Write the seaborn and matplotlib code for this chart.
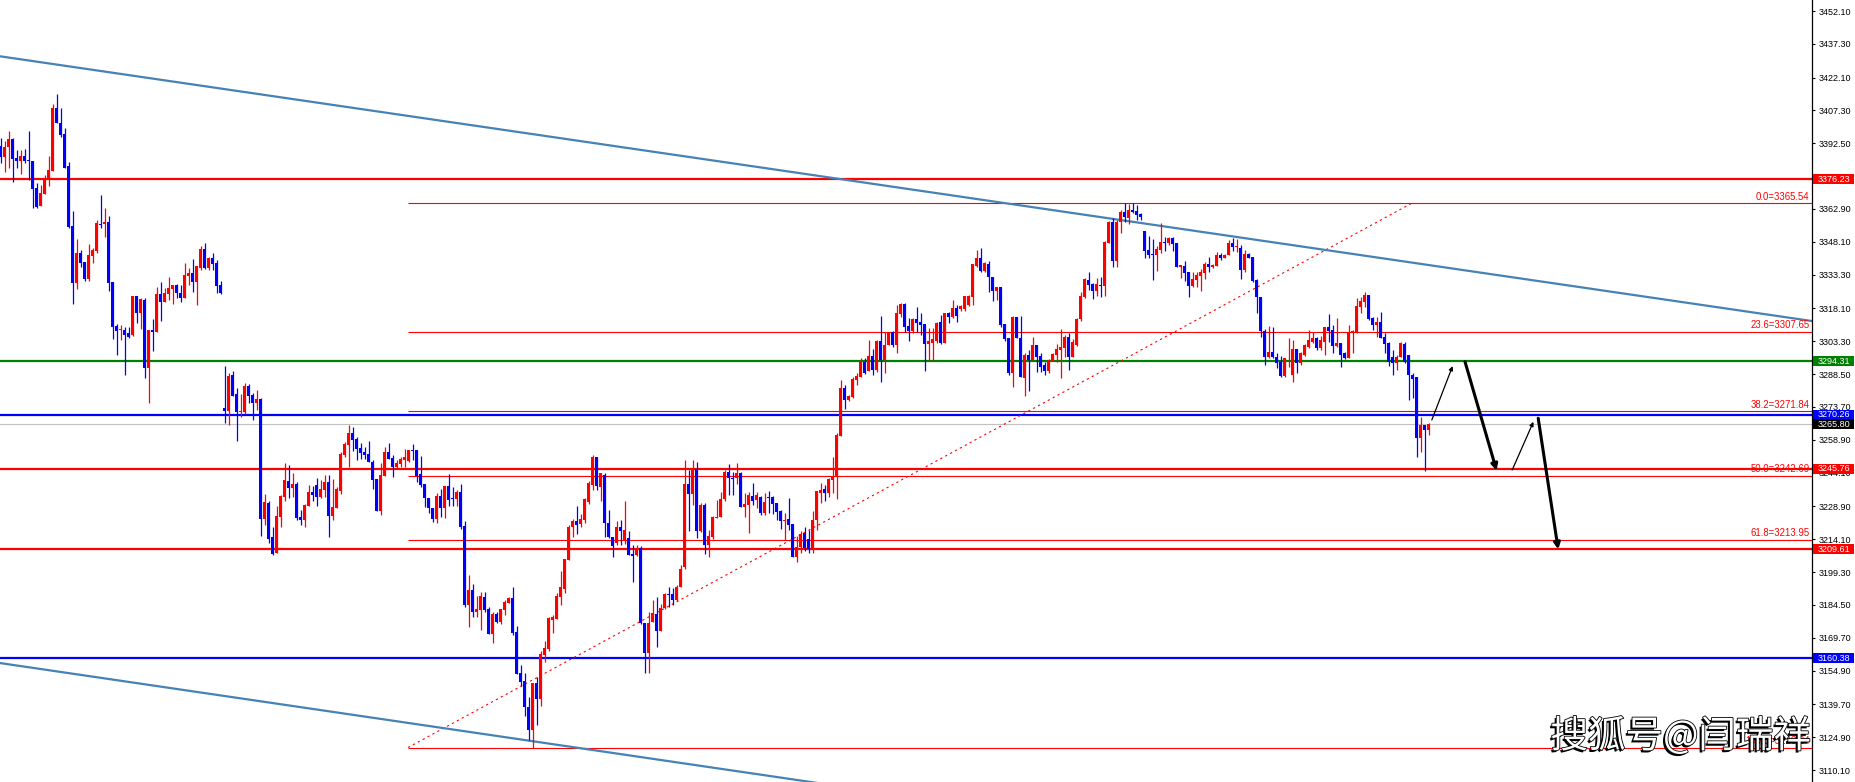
import numpy as np
import matplotlib
matplotlib.use("Agg")
import matplotlib.pyplot as plt
import matplotlib.patheffects as pe
from matplotlib.patches import Rectangle
import seaborn as sns

# candle data, one value per bar
opens = [3391.3, 3386.5, 3390.7, 3394.6, 3385.9, 3384.7, 3386.8, 3385.0, 3384.7, 3372.2,
         3364.2, 3369.6, 3376.2, 3380.1, 3408.5, 3401.8, 3396.7, 3382.2, 3355.2, 3329.4,
         3342.9, 3339.0, 3331.2, 3341.7, 3344.1, 3356.1, 3356.0, 3357.0, 3330.1, 3310.2,
         3308.5, 3308.4, 3307.2, 3306.1, 3323.7, 3315.9, 3321.9, 3291.1, 3308.4, 3307.6,
         3324.6, 3321.1, 3324.6, 3326.7, 3328.6, 3324.9, 3322.6, 3332.7, 3333.9, 3330.1,
         3336.1, 3344.8, 3336.1, 3340.9, 3338.7, 3328.6, 3273.2, 3272.0, 3288.2, 3279.5,
         3271.6, 3271.6, 3283.1, 3279.1, 3275.6, 3277.4, 3223.2, 3230.4, 3214.9, 3207.7,
         3224.2, 3233.3, 3240.5, 3237.3, 3239.0, 3223.9, 3222.7, 3229.0, 3235.2, 3238.5,
         3233.0, 3236.4, 3239.7, 3224.7, 3228.3, 3236.0, 3252.0, 3256.5, 3261.8, 3259.2,
         3255.3, 3253.4, 3252.5, 3249.0, 3241.1, 3226.8, 3242.4, 3253.4, 3250.7, 3246.5,
         3248.0, 3249.8, 3249.5, 3254.3, 3254.3, 3243.5, 3239.0, 3232.5, 3228.0, 3223.2,
         3233.7, 3228.3, 3238.1, 3232.5, 3232.2, 3235.2, 3220.0, 3184.4, 3191.2, 3181.4,
         3182.2, 3188.2, 3182.6, 3171.4, 3180.4, 3176.6, 3182.2, 3185.5, 3187.4, 3172.4,
         3153.7, 3150.3, 3138.6, 3128.1, 3149.1, 3141.9, 3161.9, 3164.6, 3177.7, 3178.0,
         3188.2, 3191.7, 3204.7, 3219.4, 3222.4, 3220.9, 3222.7, 3231.0, 3238.5, 3251.3,
         3237.8, 3242.9, 3221.5, 3215.2, 3212.2, 3219.7, 3213.6, 3214.5, 3207.4, 3207.0,
         3210.0, 3176.2, 3163.0, 3176.9, 3180.4, 3172.9, 3182.9, 3189.4, 3189.4, 3186.7,
         3192.4, 3201.5, 3239.0, 3234.5, 3245.6, 3218.0, 3229.5, 3211.5, 3215.2, 3223.5,
         3223.9, 3232.2, 3244.5, 3241.8, 3241.5, 3244.1, 3228.8, 3229.5, 3233.6, 3231.8,
         3233.3, 3225.7, 3233.3, 3232.9, 3230.3, 3227.0, 3222.4, 3223.0, 3220.9, 3206.2,
         3210.4, 3216.7, 3214.0, 3210.0, 3222.7, 3234.8, 3236.6, 3235.1, 3240.8, 3242.6,
         3260.6, 3282.1, 3276.8, 3278.0, 3285.8, 3287.3, 3294.1, 3290.0, 3296.7, 3290.3,
         3303.4, 3294.9, 3301.6, 3307.6, 3301.6, 3315.6, 3320.1, 3310.2, 3308.1, 3313.2,
         3312.1, 3311.1, 3302.1, 3302.7, 3303.6, 3312.1, 3302.4, 3316.2, 3314.1, 3318.1,
         3317.7, 3317.7, 3319.8, 3323.4, 3337.2, 3340.6, 3335.1, 3338.1, 3332.1, 3326.1,
         3327.6, 3311.1, 3304.6, 3289.1, 3314.4, 3304.6, 3286.9, 3297.1, 3294.8, 3301.6,
         3296.6, 3292.6, 3289.9, 3294.5, 3297.1, 3299.3, 3300.1, 3305.3, 3296.3, 3301.6,
         3313.2, 3323.4, 3330.9, 3329.1, 3326.1, 3328.4, 3328.1, 3347.4, 3357.2, 3339.6,
         3357.2, 3361.7, 3358.7, 3362.4, 3362.1, 3360.6, 3353.1, 3344.4, 3342.6, 3342.1,
         3344.4, 3348.2, 3347.4, 3349.7, 3347.4, 3336.9, 3337.2, 3334.6, 3328.2, 3331.0,
         3332.8, 3333.9, 3338.1, 3336.6, 3337.2, 3342.1, 3340.6, 3342.1, 3347.7, 3345.6,
         3345.2, 3335.4, 3342.6, 3341.1, 3330.9, 3323.1, 3308.1, 3296.0, 3298.3, 3296.3,
         3294.1, 3287.6, 3294.1, 3288.1, 3299.6, 3293.3, 3297.1, 3300.8, 3303.1, 3304.6,
         3300.1, 3303.1, 3309.5, 3308.3, 3301.1, 3302.6, 3297.8, 3295.6, 3306.8, 3307.1,
         3318.8, 3321.1, 3324.1, 3313.6, 3310.6, 3312.1, 3305.3, 3302.6, 3296.3, 3293.3,
         3296.3, 3302.0, 3297.1, 3288.1, 3287.0, 3259.5, 3265.6, 3263.3]
highs = [3394.7, 3393.5, 3398.0, 3395.0, 3389.5, 3389.5, 3389.8, 3398.0, 3384.7, 3374.4,
         3373.7, 3378.2, 3386.8, 3410.0, 3414.7, 3408.5, 3399.2, 3384.1, 3362.0, 3349.2,
         3344.4, 3339.0, 3347.0, 3345.1, 3357.9, 3369.2, 3363.2, 3359.9, 3330.1, 3311.1,
         3310.6, 3309.9, 3309.6, 3323.7, 3323.7, 3322.6, 3322.6, 3308.4, 3313.2, 3327.6,
         3330.1, 3327.1, 3332.4, 3328.6, 3329.1, 3328.6, 3338.4, 3336.1, 3340.3, 3337.2,
         3346.4, 3347.7, 3341.4, 3343.2, 3339.9, 3330.6, 3292.1, 3289.1, 3289.9, 3282.1,
         3279.5, 3284.6, 3283.9, 3279.8, 3281.3, 3277.9, 3234.5, 3231.3, 3219.6, 3229.0,
         3234.0, 3248.3, 3247.5, 3243.8, 3240.0, 3227.2, 3229.9, 3238.5, 3238.2, 3241.8,
         3240.8, 3243.0, 3243.0, 3241.1, 3237.8, 3253.5, 3258.0, 3265.5, 3264.5, 3260.0,
         3257.3, 3255.8, 3258.3, 3249.8, 3241.1, 3248.6, 3255.5, 3257.3, 3252.0, 3249.8,
         3251.3, 3254.7, 3254.3, 3257.0, 3254.3, 3251.6, 3239.0, 3232.5, 3228.0, 3234.8,
         3236.7, 3238.2, 3243.5, 3237.8, 3236.3, 3239.0, 3222.4, 3197.9, 3193.9, 3188.6,
         3190.5, 3190.5, 3183.4, 3181.4, 3181.4, 3182.6, 3186.7, 3187.9, 3192.7, 3175.1,
         3157.4, 3153.7, 3143.1, 3149.1, 3151.9, 3163.7, 3168.4, 3179.2, 3179.9, 3189.7,
         3199.9, 3205.2, 3220.5, 3223.0, 3229.0, 3225.4, 3232.8, 3240.5, 3252.0, 3251.3,
         3244.1, 3244.1, 3227.3, 3215.2, 3222.4, 3222.7, 3231.3, 3217.9, 3211.5, 3211.5,
         3211.0, 3176.5, 3181.4, 3186.7, 3188.2, 3184.9, 3189.7, 3192.4, 3191.9, 3193.5,
         3202.5, 3249.8, 3245.3, 3249.8, 3249.0, 3230.6, 3230.6, 3218.2, 3224.5, 3231.8,
         3235.5, 3245.3, 3247.8, 3244.5, 3248.6, 3244.5, 3234.8, 3235.5, 3239.3, 3235.5,
         3233.6, 3235.1, 3235.8, 3233.6, 3230.6, 3227.3, 3225.8, 3232.5, 3220.9, 3215.5,
         3217.9, 3219.4, 3218.2, 3226.9, 3236.0, 3239.6, 3238.5, 3241.5, 3251.3, 3261.8,
         3285.8, 3283.6, 3279.1, 3287.0, 3288.8, 3295.6, 3295.6, 3303.9, 3299.7, 3303.9,
         3314.7, 3307.6, 3307.6, 3308.1, 3319.6, 3320.4, 3320.4, 3313.6, 3313.6, 3318.6,
         3316.2, 3311.1, 3309.1, 3309.1, 3312.1, 3315.1, 3315.9, 3316.6, 3321.9, 3319.6,
         3319.6, 3323.7, 3324.3, 3338.1, 3344.4, 3345.2, 3339.1, 3339.6, 3332.1, 3327.9,
         3327.6, 3311.1, 3304.6, 3314.7, 3314.4, 3314.7, 3297.8, 3299.3, 3305.0, 3301.6,
         3297.8, 3294.1, 3295.1, 3298.1, 3302.0, 3308.6, 3306.1, 3307.1, 3304.1, 3313.6,
         3325.6, 3331.6, 3334.6, 3329.7, 3331.6, 3332.1, 3348.6, 3357.6, 3358.7, 3357.9,
         3362.4, 3365.4, 3365.1, 3365.4, 3364.7, 3361.2, 3353.1, 3350.7, 3349.2, 3346.2,
         3356.4, 3350.4, 3350.4, 3350.1, 3347.4, 3337.6, 3339.6, 3334.6, 3334.6, 3334.6,
         3335.7, 3339.1, 3341.4, 3338.1, 3343.6, 3342.9, 3342.6, 3348.9, 3349.7, 3349.2,
         3346.7, 3344.4, 3342.9, 3341.1, 3331.2, 3323.4, 3308.6, 3310.1, 3309.9, 3298.1,
         3296.6, 3295.6, 3304.6, 3303.8, 3299.6, 3298.6, 3302.0, 3308.4, 3307.6, 3305.4,
         3305.6, 3309.9, 3315.6, 3310.6, 3313.6, 3302.6, 3298.6, 3310.6, 3308.3, 3322.6,
         3323.1, 3325.6, 3324.1, 3314.4, 3314.4, 3316.6, 3306.8, 3303.1, 3299.3, 3297.1,
         3303.1, 3303.1, 3297.1, 3289.1, 3287.0, 3269.3, 3265.6, 3266.3]
lows = [3383.4, 3379.7, 3381.2, 3375.2, 3381.2, 3378.5, 3383.4, 3375.9, 3363.5, 3363.2,
        3364.2, 3369.6, 3373.2, 3380.1, 3401.8, 3395.5, 3381.5, 3354.5, 3319.9, 3327.0,
        3336.9, 3330.4, 3330.4, 3338.7, 3342.9, 3354.5, 3350.4, 3326.1, 3304.1, 3297.1,
        3303.8, 3288.1, 3304.6, 3305.6, 3311.7, 3308.6, 3286.6, 3275.5, 3299.0, 3307.6,
        3312.6, 3321.1, 3321.9, 3319.9, 3322.6, 3321.1, 3322.6, 3328.6, 3325.6, 3319.6,
        3335.4, 3335.7, 3335.4, 3335.4, 3325.2, 3324.6, 3266.6, 3265.5, 3278.6, 3258.5,
        3269.0, 3270.5, 3275.3, 3267.8, 3272.3, 3215.5, 3220.5, 3212.5, 3207.0, 3207.7,
        3219.7, 3231.5, 3232.5, 3233.0, 3222.7, 3220.5, 3219.7, 3229.0, 3231.5, 3229.0,
        3232.5, 3233.0, 3215.2, 3222.7, 3228.0, 3234.5, 3251.0, 3246.8, 3254.0, 3249.8,
        3250.1, 3250.1, 3248.7, 3236.7, 3226.8, 3225.0, 3242.4, 3250.2, 3242.0, 3245.6,
        3246.5, 3246.8, 3249.0, 3249.8, 3240.0, 3237.8, 3228.8, 3225.8, 3222.0, 3221.2,
        3224.3, 3223.8, 3229.2, 3229.2, 3229.2, 3218.5, 3183.7, 3174.7, 3178.9, 3179.2,
        3173.2, 3181.4, 3171.4, 3167.5, 3176.2, 3175.9, 3179.9, 3185.2, 3170.9, 3153.4,
        3147.9, 3134.4, 3123.6, 3119.9, 3130.4, 3138.9, 3158.9, 3163.9, 3172.0, 3178.0,
        3184.4, 3190.0, 3204.7, 3215.2, 3216.4, 3219.4, 3221.5, 3230.0, 3236.3, 3236.3,
        3231.3, 3214.9, 3214.5, 3206.2, 3211.5, 3211.5, 3211.9, 3207.0, 3195.0, 3206.5,
        3176.0, 3154.0, 3154.0, 3176.9, 3165.7, 3172.9, 3182.6, 3183.7, 3184.4, 3186.4,
        3192.4, 3200.5, 3217.9, 3229.5, 3214.5, 3217.5, 3207.4, 3206.2, 3214.0, 3223.5,
        3223.9, 3231.5, 3234.0, 3234.0, 3239.0, 3228.5, 3224.2, 3216.7, 3229.5, 3228.0,
        3225.0, 3225.0, 3225.7, 3225.4, 3222.8, 3218.7, 3213.7, 3218.2, 3206.2, 3204.0,
        3207.7, 3208.9, 3207.7, 3207.7, 3218.2, 3230.3, 3231.5, 3233.3, 3235.1, 3232.1,
        3260.6, 3272.6, 3276.4, 3277.6, 3283.6, 3287.0, 3288.5, 3290.0, 3288.1, 3289.6,
        3285.1, 3289.1, 3301.6, 3300.9, 3298.2, 3314.4, 3307.6, 3303.6, 3306.9, 3307.6,
        3306.1, 3290.0, 3294.6, 3294.6, 3302.4, 3302.1, 3302.4, 3311.7, 3313.6, 3312.1,
        3316.8, 3317.1, 3319.4, 3319.6, 3336.6, 3334.6, 3334.6, 3325.6, 3321.6, 3321.9,
        3309.9, 3303.4, 3288.1, 3282.8, 3304.6, 3287.3, 3278.6, 3281.0, 3294.8, 3289.6,
        3289.6, 3288.1, 3289.1, 3294.5, 3294.1, 3286.9, 3296.3, 3290.3, 3296.3, 3301.1,
        3312.6, 3322.6, 3326.4, 3322.2, 3323.7, 3323.1, 3323.7, 3347.4, 3336.9, 3336.6,
        3351.9, 3357.2, 3356.1, 3360.9, 3357.9, 3358.0, 3340.6, 3340.6, 3330.9, 3334.9,
        3342.9, 3344.1, 3346.7, 3344.1, 3336.9, 3331.6, 3330.6, 3323.4, 3327.9, 3327.9,
        3326.1, 3331.2, 3334.6, 3336.4, 3337.2, 3339.9, 3340.6, 3342.1, 3344.1, 3343.6,
        3331.2, 3334.6, 3340.6, 3330.1, 3315.9, 3305.0, 3292.6, 3295.6, 3295.6, 3291.1,
        3287.3, 3287.3, 3291.8, 3285.1, 3289.1, 3292.6, 3296.6, 3300.1, 3302.3, 3299.3,
        3299.3, 3297.1, 3303.1, 3297.8, 3300.8, 3291.5, 3295.1, 3295.6, 3298.1, 3307.1,
        3316.2, 3318.8, 3312.9, 3308.4, 3305.4, 3304.6, 3297.8, 3292.1, 3288.1, 3290.3,
        3296.0, 3293.3, 3276.8, 3277.6, 3251.3, 3253.5, 3245.0, 3261.1]
closes = [3386.5, 3390.7, 3394.3, 3385.6, 3384.7, 3386.8, 3384.7, 3384.4, 3371.7, 3363.9,
          3370.2, 3376.2, 3380.4, 3408.5, 3401.8, 3396.2, 3381.5, 3354.9, 3329.4, 3342.9,
          3338.7, 3331.2, 3342.1, 3344.4, 3356.4, 3355.7, 3357.2, 3329.7, 3309.9, 3308.0,
          3308.8, 3306.1, 3305.3, 3323.7, 3315.9, 3322.2, 3291.1, 3308.4, 3307.6, 3324.6,
          3321.1, 3324.9, 3327.1, 3328.6, 3324.9, 3322.6, 3333.1, 3333.9, 3330.1, 3337.2,
          3344.8, 3336.1, 3340.9, 3337.9, 3328.2, 3325.2, 3272.0, 3287.8, 3278.6, 3271.6,
          3271.9, 3283.1, 3278.8, 3275.6, 3277.1, 3223.2, 3230.8, 3214.2, 3207.3, 3224.5,
          3233.6, 3240.8, 3237.3, 3239.0, 3223.8, 3222.7, 3229.5, 3235.2, 3234.0, 3233.0,
          3236.7, 3239.8, 3224.7, 3228.7, 3236.7, 3252.5, 3257.0, 3261.8, 3258.8, 3254.7,
          3253.1, 3252.0, 3248.7, 3240.8, 3226.8, 3243.0, 3253.4, 3250.2, 3246.5, 3248.3,
          3250.1, 3251.3, 3254.3, 3254.0, 3242.6, 3238.5, 3232.5, 3228.0, 3223.2, 3233.7,
          3228.0, 3238.1, 3231.8, 3232.2, 3235.5, 3219.4, 3184.4, 3191.2, 3181.4, 3182.6,
          3188.6, 3182.2, 3171.4, 3180.4, 3176.6, 3182.6, 3185.9, 3187.4, 3172.0, 3153.4,
          3149.9, 3138.3, 3128.1, 3149.1, 3141.9, 3162.2, 3164.9, 3178.4, 3179.2, 3188.6,
          3192.4, 3205.2, 3219.7, 3222.4, 3220.5, 3223.2, 3232.1, 3239.6, 3251.3, 3238.1,
          3243.8, 3221.5, 3214.9, 3211.0, 3219.7, 3217.9, 3218.2, 3207.0, 3206.5, 3210.0,
          3176.2, 3163.0, 3176.2, 3180.7, 3172.9, 3183.2, 3189.4, 3189.0, 3186.7, 3192.7,
          3200.9, 3239.0, 3234.5, 3245.6, 3218.0, 3229.5, 3211.5, 3215.5, 3223.9, 3224.2,
          3232.2, 3244.5, 3241.5, 3241.1, 3243.8, 3228.8, 3230.0, 3234.0, 3231.5, 3234.0,
          3225.7, 3231.0, 3232.5, 3230.0, 3226.5, 3222.4, 3222.7, 3220.5, 3206.2, 3210.7,
          3216.4, 3210.0, 3209.5, 3222.7, 3236.0, 3236.3, 3235.1, 3241.2, 3242.6, 3261.0,
          3282.1, 3276.8, 3278.6, 3286.1, 3287.6, 3294.1, 3289.1, 3296.7, 3290.3, 3303.4,
          3294.9, 3301.6, 3307.2, 3301.6, 3315.9, 3320.1, 3309.9, 3308.1, 3313.2, 3311.7,
          3310.6, 3302.1, 3303.6, 3304.1, 3311.7, 3302.4, 3315.9, 3314.1, 3318.1, 3314.7,
          3319.2, 3323.7, 3323.9, 3338.1, 3340.6, 3335.1, 3338.4, 3332.1, 3326.1, 3327.9,
          3310.6, 3304.3, 3288.8, 3314.4, 3304.6, 3287.3, 3297.1, 3294.8, 3301.6, 3296.3,
          3291.8, 3289.9, 3294.8, 3297.5, 3299.6, 3300.8, 3305.3, 3296.3, 3303.1, 3313.2,
          3323.7, 3331.2, 3328.6, 3325.9, 3328.9, 3328.1, 3348.2, 3357.2, 3339.6, 3357.2,
          3361.7, 3359.1, 3362.4, 3361.7, 3360.2, 3359.4, 3344.1, 3342.1, 3342.1, 3344.7,
          3348.2, 3347.4, 3349.7, 3347.1, 3336.9, 3337.6, 3334.2, 3328.2, 3331.3, 3333.1,
          3334.6, 3338.1, 3336.6, 3337.6, 3342.1, 3340.6, 3342.1, 3347.4, 3345.9, 3346.2,
          3335.4, 3342.6, 3340.6, 3330.6, 3323.1, 3308.1, 3296.0, 3298.3, 3296.0, 3293.3,
          3287.6, 3295.6, 3294.6, 3299.6, 3293.3, 3298.1, 3301.6, 3303.8, 3304.6, 3300.1,
          3303.8, 3309.5, 3308.0, 3301.1, 3302.6, 3297.1, 3295.6, 3307.1, 3308.0, 3319.2,
          3321.6, 3324.1, 3313.2, 3310.6, 3312.1, 3304.6, 3302.1, 3294.1, 3293.3, 3296.3,
          3302.3, 3294.1, 3288.1, 3286.1, 3259.5, 3265.6, 3263.3, 3265.8]

# horizontal levels and their right-axis tags
level_prices = [3376.23, 3294.31, 3270.26, 3245.76, 3209.61, 3160.38]
level_colors = ['#ff0000', '#008000', '#0000ff', '#ff0000', '#ff0000', '#0000ff']
bid_price = 3265.80

# fibonacci retracement
fib_ratios = ['0.0', '23.6', '38.2', '50.0', '61.8', '100.0']
fib_prices = [3365.54, 3307.65, 3271.84, 3242.69, 3213.95, 3120.24]
fib_start_bar = 101.75
fib_end_bar = 352.75

# channel lines: (bar, price) end points
upper_bars = [-0.25, 452.75]
upper_prices = [3431.7, 3312.4]
lower_bars = [-0.25, 452.75]
lower_prices = [3158.3, 3038.5]

# projected path arrows
arrow_x0 = [357.7, 366.0, 377.8, 384.3]
arrow_y0 = [3267.8, 3294.1, 3245.3, 3268.6]
arrow_x1 = [362.9, 373.9, 383.1, 389.3]
arrow_y1 = [3292.1, 3245.0, 3267.0, 3209.5]
arrow_thick = [False, True, False, True]

y_ticks = [3452.10, 3437.30, 3422.10, 3407.30, 3392.50, 3377.70, 3362.90, 3348.10,
           3333.30, 3318.10, 3303.30, 3288.50, 3273.70, 3258.90, 3244.10, 3228.90,
           3214.10, 3199.30, 3184.50, 3169.70, 3154.90, 3139.70, 3124.90, 3110.10]

sns.set_style('white')
plt.rcParams['font.family'] = ['Liberation Sans', 'DejaVu Sans']

fig = plt.figure(figsize=(18.56, 7.82), dpi=100)
ax = fig.add_axes([0, 0, 1812 / 1856, 1])

o = np.array(opens)
h = np.array(highs)
l = np.array(lows)
c = np.array(closes)
x = np.arange(len(o))
up = c >= o
cols = np.where(up, '#ff0000', '#0000ff')

# horizontal levels (under the candles)
for p, col in zip(level_prices, level_colors):
    ax.axhline(p, color=col, lw=1.6, zorder=1)
ax.axhline(bid_price, color='#c0c0c0', lw=0.8, zorder=1)

for r, p in zip(fib_ratios, fib_prices):
    ax.hlines(p, fib_start_bar, 452.75, color='#ff0000', lw=0.8, zorder=1)
    ax.text(1809.5 / 1812, p + 0.6, f'{r}={p:.2f}', transform=ax.get_yaxis_transform(),
            ha='right', va='bottom', color='#ff0000', fontsize=6.9, zorder=4)

ax.plot([fib_start_bar, fib_end_bar], [fib_prices[-1], fib_prices[0]],
        color='#ff0000', lw=0.8, linestyle=(0, (2, 3)), zorder=1)

# channel
sns.lineplot(x=upper_bars, y=upper_prices, ax=ax, color='#4682b4', linewidth=1.6, zorder=1)
sns.lineplot(x=lower_bars, y=lower_prices, ax=ax, color='#4682b4', linewidth=1.6, zorder=1)

# candles
ax.vlines(x, l, h, colors=cols, lw=0.9, zorder=2)
body = np.maximum(np.abs(c - o), 0.45)
ax.bar(x, body, bottom=np.minimum(o, c), width=0.75, color=cols, linewidth=0, zorder=3)

for x0, y0, x1, y1, thick in zip(arrow_x0, arrow_y0, arrow_x1, arrow_y1, arrow_thick):
    ax.annotate('', xy=(x1, y1), xytext=(x0, y0),
                arrowprops=dict(arrowstyle='-|>', color='black',
                                lw=2.2 if thick else 0.9,
                                mutation_scale=9 if thick else 6,
                                shrinkA=0, shrinkB=0), zorder=4)

ax.set_xlim(-0.25, 452.75)
ax.set_ylim(3104.70, 3457.06)
ax.set_xticks([])
ax.yaxis.tick_right()
ax.set_yticks(y_ticks)
ax.set_yticklabels([f'{t:.2f}' for t in y_ticks])
ax.tick_params(axis='y', direction='out', length=2.5, width=0.8, pad=2.5,
               labelsize=6.5, colors='black', right=True, left=False)
for s in ['left', 'top', 'bottom']:
    ax.spines[s].set_visible(False)
ax.spines['right'].set_color('black')
ax.spines['right'].set_linewidth(0.9)

# price tags on the axis: filled box from the spine to the figure edge
half = 5.0 * (3457.06 - 3104.70) / 782
tags = list(zip(level_prices, level_colors)) + [(bid_price, '#000000')]
for p, col in tags:
    ax.add_patch(Rectangle((1813 / 1812, p - half), 41 / 1812, 2 * half,
                           transform=ax.get_yaxis_transform(), fc=col, ec='none',
                           clip_on=False, zorder=5))
    ax.text(1817.5 / 1812, p, f'{p:.2f}', transform=ax.get_yaxis_transform(),
            ha='left', va='center', color='white', fontsize=6.5, zorder=6, clip_on=False)

fig.text(1811 / 1856, 1 - 737 / 782, '搜狐号@闫瑞祥', ha='right', va='center',
         fontsize=27, color='white', family=['Noto Sans CJK SC', 'DejaVu Sans'],
         path_effects=[pe.withSimplePatchShadow(offset=(-1.5, -1.5), shadow_rgbFace='black', alpha=1),
                       pe.withStroke(linewidth=1.2, foreground='black')], zorder=10)

fig.savefig('out.png', dpi=100)
